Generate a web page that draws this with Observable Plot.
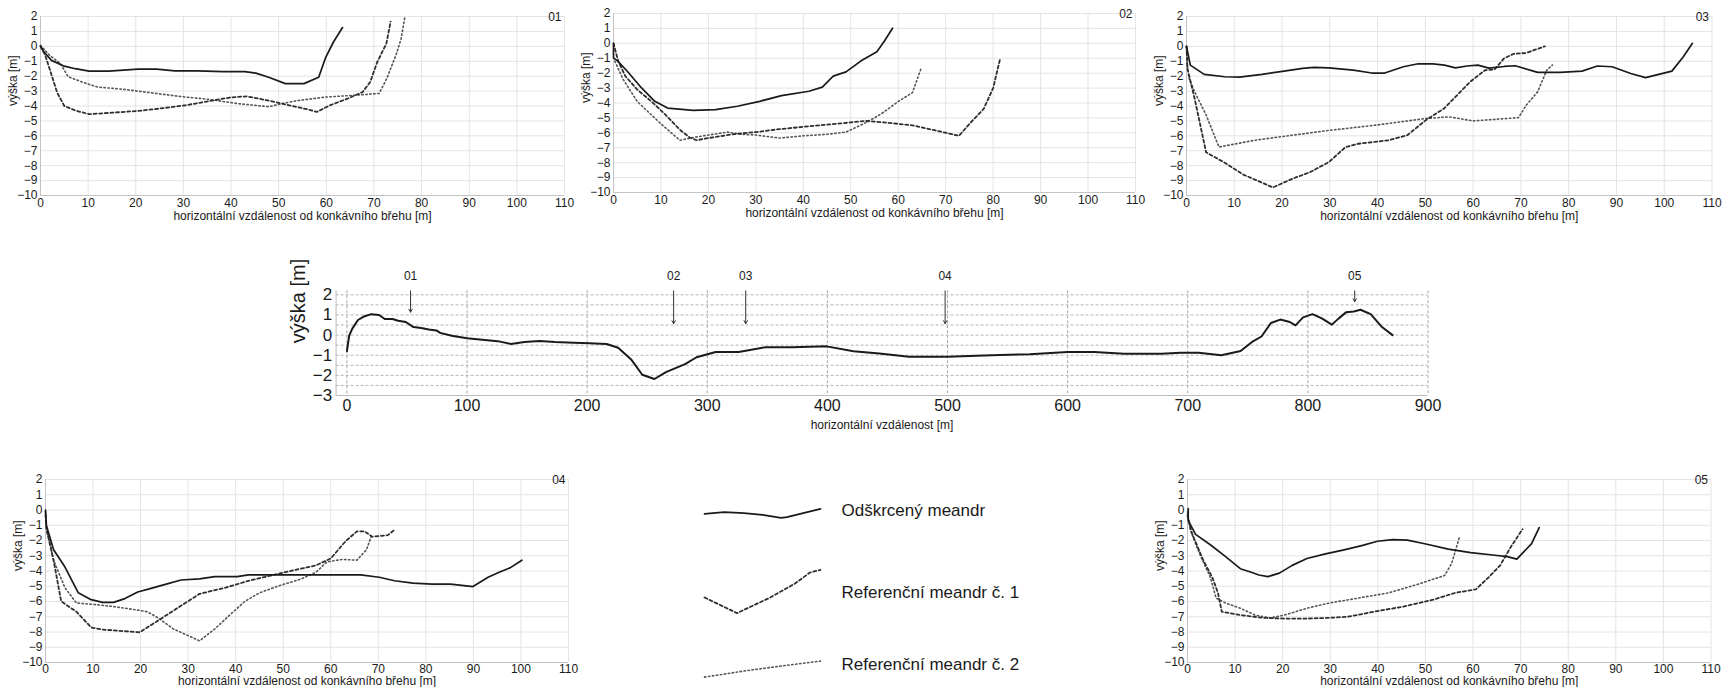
<!DOCTYPE html>
<html>
<head>
<meta charset="utf-8">
<script src="https://cdn.jsdelivr.net/npm/d3@7"></script>
<script src="https://cdn.jsdelivr.net/npm/@observablehq/plot@0.6"></script>
<style>
  body { margin: 0; background: #fff; }
  #root { position: relative; width: 1735px; height: 687px; overflow: hidden; background: #fff;
          font-family: "Liberation Sans", Arial, sans-serif; }
  #root svg { position: absolute; overflow: visible; }
</style>
</head>
<body>
<div id="root"></div>
<script>
// ---------------- DATA ----------------
const crossXTicks = [0, 10, 20, 30, 40, 50, 60, 70, 80, 90, 100, 110];
const crossYTicks = [2, 1, 0, -1, -2, -3, -4, -5, -6, -7, -8, -9, -10];
const crossXTitle = "horizontální vzdálenost od konkávního břehu [m]";
const yTitle = "výška [m]";
const seriesNames = ["Odškrcený meandr", "Referenční meandr č. 1", "Referenční meandr č. 2"];

// [distance m, height m]
const p01Solid = [[0,0],[0.8,-0.4],[2.3,-0.94],[5,-1.33],[7.3,-1.5],[10.2,-1.66],[14.3,-1.66],[17.4,-1.6],[20.5,-1.53],[24.4,-1.53],[28.2,-1.64],[32.9,-1.64],[38.3,-1.69],[42.9,-1.69],[45.2,-1.8],[47.9,-2.07],[51.4,-2.5],[55.3,-2.5],[58.4,-2.07],[59.9,-0.72],[61.5,0.29],[63.4,1.26]];
const p01Ref1 = [[0,0],[1,-0.6],[1.9,-1.5],[3.5,-3.1],[5,-4],[7.3,-4.3],[10.2,-4.55],[15,-4.45],[20.5,-4.33],[25.1,-4.17],[30.5,-3.95],[35.2,-3.68],[39.8,-3.43],[43.3,-3.35],[47.6,-3.62],[52.2,-3.95],[56,-4.22],[58,-4.4],[60.7,-3.96],[64.5,-3.5],[67.6,-3.07],[69.2,-2.4],[70.7,-1.05],[72.6,0.18],[73.5,1.66]];
const p01Ref2 = [[0,0.07],[1.9,-0.6],[4.2,-1.16],[5.8,-2.04],[9.7,-2.5],[12,-2.73],[17.4,-2.88],[22.8,-3.1],[29,-3.35],[35.2,-3.55],[41.4,-3.84],[48,-4.05],[50.6,-3.84],[53.7,-3.65],[59.9,-3.4],[65,-3.3],[71.1,-3.16],[72.7,-2.15],[74.6,-0.6],[75.7,0.5],[76.5,2]];

const p02Solid = [[0,0],[0,-0.97],[0.9,-1.19],[2.9,-1.87],[5.6,-2.88],[8.7,-3.89],[11.4,-4.34],[16.8,-4.49],[21.5,-4.45],[26.1,-4.22],[30.8,-3.89],[35.4,-3.51],[41.2,-3.21],[44,-2.94],[46.3,-2.2],[49,-1.91],[52.1,-1.19],[55.5,-0.56],[57.1,0.16],[58.8,1.01]];
const p02Ref1 = [[0,0],[1,-1.2],[2.5,-2.2],[5,-3.1],[8,-3.9],[11,-4.8],[14,-5.8],[16,-6.3],[17.5,-6.5],[20,-6.35],[25,-6.1],[30,-5.95],[35,-5.75],[40,-5.6],[45,-5.45],[50,-5.3],[53,-5.2],[57,-5.3],[63,-5.5],[68,-5.85],[72.8,-6.2],[75,-5.4],[78,-4.4],[80,-3],[81.5,-1]];
const p02Ref2 = [[0.3,-1.2],[2,-2.4],[5,-3.9],[10,-5.4],[14,-6.5],[17,-6.3],[20,-6.15],[24,-5.95],[27,-6.1],[30,-6.15],[35,-6.35],[40,-6.2],[45,-6.1],[49,-5.95],[52,-5.5],[55,-5.0],[57,-4.6],[60,-3.9],[63,-3.3],[64.8,-1.7]];

const p03Solid = [[0,0],[0.8,-1.26],[3.7,-1.88],[8,-2.04],[11.1,-2.06],[15.8,-1.88],[20.4,-1.66],[24.3,-1.48],[26.7,-1.41],[29.8,-1.44],[34.9,-1.59],[38.8,-1.79],[41.5,-1.79],[45.4,-1.37],[48.5,-1.17],[51.6,-1.17],[54,-1.26],[56.3,-1.44],[58.7,-1.32],[61,-1.26],[63.3,-1.46],[66.5,-1.35],[68.8,-1.3],[73.5,-1.75],[78.2,-1.75],[82.8,-1.66],[86,-1.32],[89.1,-1.37],[93,-1.82],[96.1,-2.1],[101.6,-1.66],[104,-0.7],[105.9,0.2]];
const p03Ref1 = [[0,0],[0.2,-1.5],[1.7,-3.5],[4.1,-7.1],[8,-7.8],[11.9,-8.6],[18.1,-9.46],[22,-8.9],[25.9,-8.43],[29.8,-7.76],[33.3,-6.75],[36,-6.53],[42.3,-6.3],[46.2,-5.96],[50.1,-4.95],[53.9,-4.17],[56.3,-3.39],[59.4,-2.37],[62.5,-1.6],[64.5,-1.55],[66.5,-0.8],[68.5,-0.5],[71,-0.45],[75,0]];
const p03Ref2 = [[0,0],[0.15,-1.26],[0.55,-2.15],[1.7,-3.05],[4.1,-4.6],[6.8,-6.75],[8,-6.68],[14.2,-6.3],[20,-6.05],[30,-5.63],[40,-5.27],[50,-4.84],[55,-4.73],[60,-5.0],[69.5,-4.78],[71.1,-3.95],[73.5,-3.05],[75.4,-1.6],[76.6,-1.26]];

const p04Solid = [[0,0],[0.2,-1.04],[1.7,-2.61],[4.1,-3.74],[6.9,-5.43],[9.6,-5.88],[12,-6.06],[14.3,-6.06],[16.7,-5.81],[19.4,-5.38],[22.2,-5.14],[25.4,-4.86],[28.5,-4.59],[32.4,-4.52],[35.6,-4.37],[40.3,-4.37],[42.7,-4.26],[50.6,-4.26],[59.2,-4.26],[66.3,-4.26],[70.2,-4.41],[73.4,-4.64],[77.3,-4.8],[81.3,-4.86],[85.2,-4.86],[89.9,-5.02],[93.1,-4.41],[95.4,-4.08],[97.8,-3.78],[100.2,-3.29]];
const p04Ref1 = [[0,-0.3],[0.2,-1.26],[1.7,-3.3],[3.3,-5.99],[6.5,-6.67],[9.6,-7.7],[12,-7.84],[16.7,-7.95],[19.8,-8.02],[23.8,-7.23],[27.7,-6.44],[32.4,-5.5],[37.9,-5.09],[42.7,-4.64],[47.4,-4.3],[52.1,-3.96],[56.9,-3.63],[60,-3.18],[63.1,-2.05],[65.5,-1.4],[67.1,-1.4],[68.7,-1.75],[72,-1.65],[73.4,-1.3]];
const p04Ref2 = [[0,-0.1],[0.2,-1.15],[1.7,-3.3],[4.1,-5.1],[6.5,-6.1],[10.4,-6.2],[14.3,-6.33],[19.1,-6.55],[21.4,-6.67],[23.8,-7.1],[26.9,-7.8],[32.4,-8.58],[35.6,-7.8],[38.7,-6.9],[41.9,-6],[45,-5.43],[49,-4.98],[53.7,-4.53],[56.9,-4.08],[59.2,-3.4],[62.4,-3.24],[65.5,-3.29],[67.5,-2.61],[68.5,-1.75]];

const p05Solid = [[0.15,0.09],[0.15,-0.7],[1.7,-1.6],[4.8,-2.28],[8,-3.06],[11.1,-3.85],[13.4,-4.08],[15,-4.26],[16.9,-4.37],[19.3,-4.14],[22,-3.63],[25.1,-3.18],[29,-2.88],[32.9,-2.61],[36.8,-2.32],[39.9,-2.05],[43.1,-1.94],[46.2,-1.98],[50.1,-2.23],[54.8,-2.57],[59.5,-2.79],[64.1,-2.95],[67.2,-3.06],[69.2,-3.22],[72.3,-2.21],[73.9,-1.15]];
const p05Ref1 = [[0,-0.36],[0.9,-1.5],[3.3,-3.29],[5.2,-4.41],[6.4,-5.43],[7.2,-6.67],[11.1,-6.89],[15.8,-7.07],[20.4,-7.12],[25.1,-7.12],[29.8,-7.07],[33.7,-7],[39.2,-6.67],[45.4,-6.33],[51.6,-5.88],[56.3,-5.43],[60.6,-5.2],[63.3,-4.41],[65.7,-3.63],[68,-2.39],[70.4,-1.26]];
const p05Ref2 = [[0,-0.13],[0.55,-1.26],[2.5,-2.84],[4.8,-4.41],[6,-5.77],[8,-6.1],[11.1,-6.44],[14.2,-6.89],[17.3,-7.07],[20.4,-6.89],[25.1,-6.44],[29.8,-6.1],[36,-5.77],[42.3,-5.43],[48.5,-4.86],[54,-4.3],[55.5,-3.51],[57.1,-1.82]];

// longitudinal profile [distance m, height m]
const profile = [[0,-0.8],[1.9,-0.03],[4.5,0.32],[9.2,0.75],[14,0.92],[20.4,1.04],[26.8,1.0],[31.5,0.8],[37.9,0.8],[42.7,0.71],[49,0.65],[55.4,0.4],[61.8,0.35],[68.2,0.28],[74.5,0.23],[77.7,0.11],[87.3,-0.03],[100,-0.16],[112.7,-0.23],[125.5,-0.3],[136.6,-0.44],[147.8,-0.34],[160.5,-0.29],[173.2,-0.34],[189.2,-0.38],[201.9,-0.41],[216.2,-0.44],[225.8,-0.63],[236.9,-1.23],[245.9,-1.97],[256,-2.18],[265.6,-1.84],[281.5,-1.44],[291.1,-1.1],[307,-0.84],[326.1,-0.84],[348.4,-0.6],[370.7,-0.6],[399.4,-0.56],[421.7,-0.8],[443.3,-0.92],[468,-1.07],[500,-1.07],[537,-1.0],[568.5,-0.95],[600,-0.84],[622,-0.84],[647,-0.93],[678,-0.93],[694,-0.88],[709,-0.88],[728,-1.0],[744,-0.79],[753.5,-0.34],[761.4,-0.07],[769.2,0.6],[777,0.77],[785,0.65],[789.7,0.48],[796,0.88],[803.8,1.04],[811.6,0.83],[820,0.52],[825.7,0.83],[832,1.14],[838.2,1.17],[843.8,1.26],[852.3,1.04],[861.7,0.4],[870.5,0.0]];
const profXTicks = [0, 100, 200, 300, 400, 500, 600, 700, 800, 900];
const profYTicks = [2, 1, 0, -1, -2, -3];
const profYGrid = [2, 1.5, 1, 0.5, 0, -0.5, -1, -1.5, -2, -2.5];
const profXTitle = "horizontální vzdálenost [m]";
const sectionNames = ["01", "02", "03", "04", "05"];
const sectionPos = [53, 272, 332, 498, 839];
const sectionArrowEnd = [1.14, 0.57, 0.57, 0.57, 1.66];

// legend sample shapes [fraction of sample width, offset]
const legendSolid = [[0,-0.17],[0.17,-0.08],[0.34,-0.13],[0.5,-0.22],[0.66,-0.37],[0.71,-0.33],[1,0.08]];
const legendRef1 = [[0,-0.25],[0.28,-1.03],[0.55,-0.3],[0.78,0.45],[0.91,1.0],[1,1.13]];
const legendRef2 = [[0,-0.63],[0.37,-0.3],[0.7,-0.05],[1,0.17]];

// ---------------- STYLES ----------------
const FONT = "'Liberation Sans', Arial, sans-serif";
const solidStyle = {stroke: "#1a1a1a", strokeWidth: 1.7, strokeLinejoin: "round"};
const ref1Style  = {stroke: "#2e2e2e", strokeWidth: 1.8, strokeDasharray: "3,2.6"};
const ref2Style  = {stroke: "#555", strokeWidth: 1.6, strokeDasharray: "1.4,2.6"};
const root = document.getElementById("root");

function crossSection(cfg) {
  const mL = 42, mR = 22, mT = 14, mB = 36;
  const w = cfg.fx1 - cfg.fx0 + mL + mR;
  const h = cfg.fy1 - cfg.fy0 + mT + mB;
  const pt = {x: d => d[0], y: d => d[1]};
  const svg = Plot.plot({
    width: w, height: h, marginLeft: mL, marginRight: mR, marginTop: mT, marginBottom: mB,
    x: {domain: [0, 110]}, y: {domain: [-10, 2]},
    style: {fontFamily: FONT, fontSize: "12px", color: "#1a1a1a", background: "transparent"},
    marks: [
      Plot.gridX(crossXTicks, {stroke: "#e4e4e4", strokeOpacity: 1}),
      Plot.gridY(crossYTicks, {stroke: "#e4e4e4", strokeOpacity: 1}),
      Plot.ruleX([0], {stroke: "#c4c4c4"}),
      Plot.ruleY([-10], {stroke: "#c4c4c4"}),
      Plot.axisX(crossXTicks, {tickSize: 0, tickPadding: cfg.tickPad, label: null}),
      Plot.axisY(crossYTicks, {tickSize: 0, tickPadding: 3, label: null}),
      Plot.line(cfg.ref2, {...pt, ...ref2Style}),
      Plot.line(cfg.ref1, {...pt, ...ref1Style}),
      Plot.line(cfg.solid, {...pt, ...solidStyle}),
      Plot.text([crossXTitle], {text: d => d, frameAnchor: "bottom", lineAnchor: "middle", dy: cfg.titleDy, fontSize: 12}),
      Plot.text([yTitle], {text: d => d, frameAnchor: "left", lineAnchor: "middle", dx: -27, rotate: -90, fontSize: 12}),
      Plot.text([cfg.label], {text: d => d, frameAnchor: "top-right", lineAnchor: "middle", textAnchor: "end", dx: -3, dy: 1, fontSize: 12})
    ]
  });
  svg.style.left = (cfg.fx0 - mL) + "px";
  svg.style.top = (cfg.fy0 - mT) + "px";
  root.append(svg);
}

crossSection({label: "01", fx0: 40, fx1: 564, fy0: 15.5, fy1: 194.5, tickPad: 3, titleDy: 20.5, solid: p01Solid, ref1: p01Ref1, ref2: p01Ref2});
crossSection({label: "02", fx0: 612.5, fx1: 1134.5, fy0: 13, fy1: 192, tickPad: 3, titleDy: 20.5, solid: p02Solid, ref1: p02Ref1, ref2: p02Ref2});
crossSection({label: "03", fx0: 1186, fx1: 1711.5, fy0: 15.5, fy1: 194.5, tickPad: 3, titleDy: 20.5, solid: p03Solid, ref1: p03Ref1, ref2: p03Ref2});
crossSection({label: "04", fx0: 44.5, fx1: 567.5, fy0: 479, fy1: 662, tickPad: 1.5, titleDy: 19, solid: p04Solid, ref1: p04Ref1, ref2: p04Ref2});
crossSection({label: "05", fx0: 1187, fx1: 1710.5, fy0: 479, fy1: 662, tickPad: 1.5, titleDy: 19, solid: p05Solid, ref1: p05Ref1, ref2: p05Ref2});

// ---------------- LONGITUDINAL PROFILE ----------------
{
  const arrows = sectionNames.map((n, i) => ({name: n, x: sectionPos[i], yEnd: sectionArrowEnd[i]}));
  const svg = Plot.plot({
    width: 1170, height: 185, marginLeft: 55.6, marginRight: 22.5, marginTop: 35.3, marginBottom: 45,
    x: {domain: [-9, 900]}, y: {domain: [-3, 2.2]},
    style: {fontFamily: FONT, fontSize: "16px", color: "#1a1a1a", background: "transparent"},
    marks: [
      Plot.gridX(profXTicks, {stroke: "#a8a8a8", strokeOpacity: 1, strokeDasharray: "3,2"}),
      Plot.gridY(profYGrid, {stroke: "#b4b4b4", strokeOpacity: 1, strokeDasharray: "3,2"}),
      Plot.ruleX([-9], {stroke: "#bcbcbc"}),
      Plot.ruleY([-3], {stroke: "#bcbcbc"}),
      Plot.axisX(profXTicks, {tickSize: 0, tickPadding: 4, label: null, fontSize: 16}),
      Plot.axisY(profYTicks, {tickSize: 0, tickPadding: 4, label: null, fontSize: 17}),
      Plot.line(profile, {x: d => d[0], y: d => d[1], stroke: "#1a1a1a", strokeWidth: 2, strokeLinejoin: "round"}),
      Plot.arrow(arrows, {x1: "x", x2: "x", y1: () => 2.2, y2: "yEnd", stroke: "#333", strokeWidth: 1, headLength: 5}),
      Plot.text(arrows, {x: "x", y: () => 2.93, text: "name", fontSize: 12}),
      Plot.text([profXTitle], {text: d => d, frameAnchor: "bottom", lineAnchor: "middle", dy: 30, fontSize: 12}),
      Plot.text([yTitle], {text: d => d, frameAnchor: "left", lineAnchor: "middle", dx: -38, rotate: -90, fontSize: 20})
    ]
  });
  svg.style.left = "280px";
  svg.style.top = "255px";
  root.append(svg);
}

// ---------------- LEGEND ----------------
const legendRows = [
  {name: seriesNames[0], shape: legendSolid, style: {stroke: "#1a1a1a", strokeWidth: 1.7}, top: 475},
  {name: seriesNames[1], shape: legendRef1, style: ref1Style, top: 557},
  {name: seriesNames[2], shape: legendRef2, style: ref2Style, top: 629}
];
for (const row of legendRows) {
  const svg = Plot.plot({
    width: 330, height: 70, marginLeft: 14, marginRight: 200, marginTop: 0, marginBottom: 0,
    x: {domain: [0, 1], axis: null}, y: {domain: [-1.75, 1.75], axis: null},
    style: {fontFamily: FONT, fontSize: "17px", color: "#1a1a1a", background: "transparent"},
    marks: [
      Plot.line(row.shape, {x: d => d[0], y: d => d[1], ...row.style}),
      Plot.text([row.name], {text: d => d, frameAnchor: "right", lineAnchor: "middle", dx: 21, textAnchor: "start", fontSize: 17})
    ]
  });
  svg.style.left = "690px";
  svg.style.top = row.top + "px";
  root.append(svg);
}
</script>
</body>
</html>
